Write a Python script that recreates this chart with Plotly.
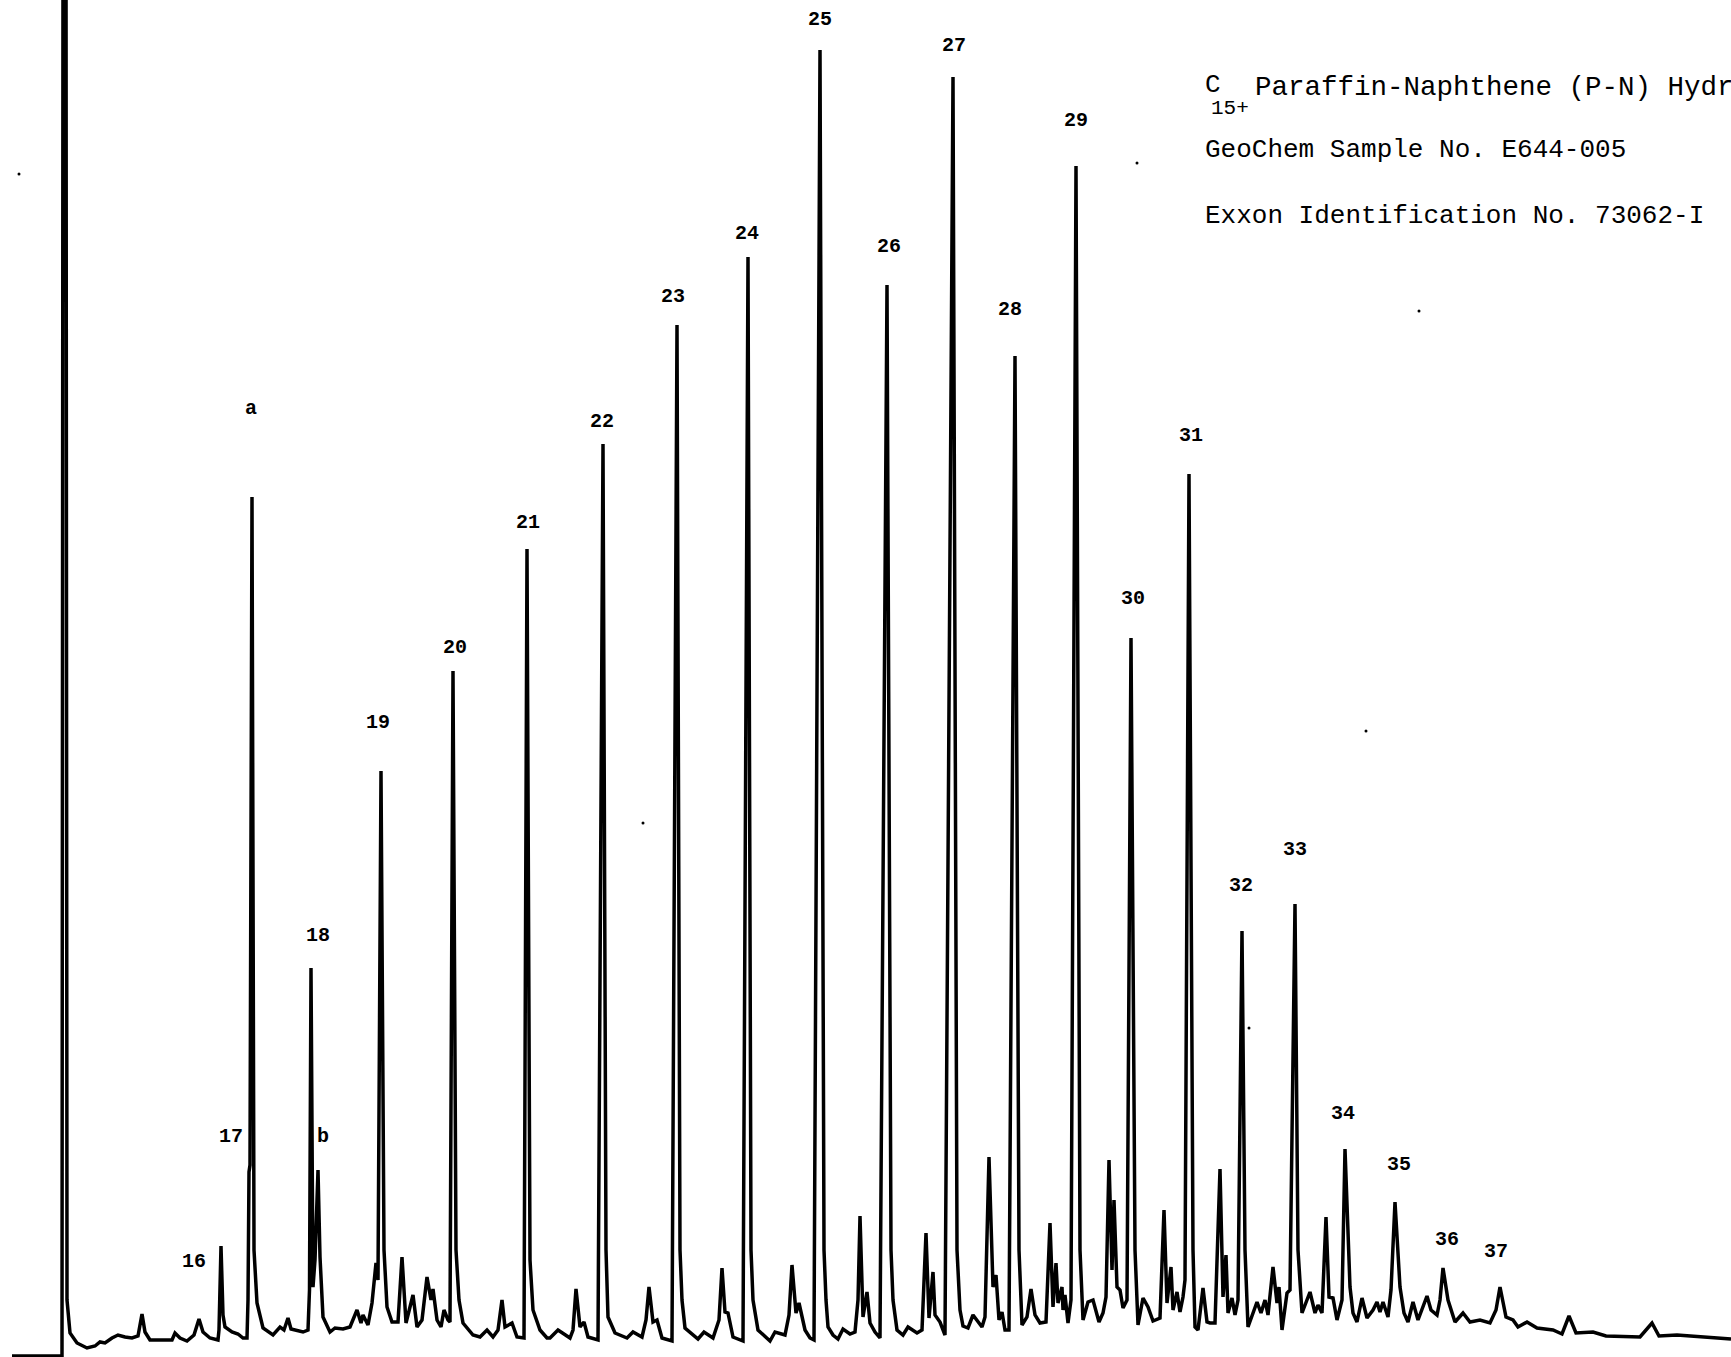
import plotly.graph_objects as go

# ---------------------------------------------------------------
# Gas chromatogram, C15+ paraffin-naphthene fraction
# x  : retention position along the recorder chart (chart units)
# pen_depth : pen position measured down from the chart top (chart units);
#             detector signal = FULL_SCALE - pen_depth
# ---------------------------------------------------------------
FULL_SCALE = 1357
CHART_LEN = 1731

# labelled n-alkane / marker peaks (apex)
peak_names = ["16", "17", "a", "18", "b", "19", "20", "21", "22", "23", "24", "25",
              "26", "27", "28", "29", "30", "31", "32", "33", "34", "35", "36", "37"]
peak_rt = [221, 249, 252, 311, 318, 381, 453, 527, 603, 677, 748, 820,
           887, 953, 1015, 1076, 1131, 1189, 1242, 1295, 1345, 1395, 1443, 1500]
peak_depth = [1246, 1172, 497, 968, 1170, 771, 671, 549, 444, 325, 257, 50,
              285, 77, 356, 166, 638, 474, 931, 904, 1149, 1202, 1268, 1287]

# label placement (chart units)
label_rt = [194, 231, 251, 318, 323, 378, 455, 528, 602, 673, 747, 820,
            889, 954, 1010, 1076, 1133, 1191, 1241, 1295, 1343, 1399, 1447, 1496]
label_depth = [1261, 1136, 408, 935, 1136, 722, 647, 522, 421, 296, 233, 19,
               246, 45, 309, 120, 598, 435, 885, 849, 1113, 1164, 1239, 1251]

# remainder of the recorder trace (baseline, minor peaks, peak flanks)
trace_rt = [
    12, 62, 63, 66, 67, 70, 77, 87, 95, 100, 105, 112, 118, 125, 132, 138, 142, 145,
    150, 172, 175, 180, 187, 194, 199, 203, 210, 218, 219, 223, 225, 232, 238, 243,
    247, 248, 248.5, 250, 254, 257, 263, 273, 280, 284, 288, 291, 303, 308, 309.5,
    313, 315, 320, 323, 330, 335, 343, 350, 357, 361, 363, 368, 372, 376, 378,
    384, 387, 392, 398, 402, 406, 413, 417, 422, 427, 431, 433, 437, 441, 444, 448,
    450, 456, 459, 463, 473, 480, 487, 493, 498, 502, 505, 512, 517, 524, 530, 533,
    540, 547, 550, 558, 570, 573, 576, 580, 584, 588, 598, 606, 608, 615, 627, 633,
    642, 646, 649, 653, 657, 662, 672, 680, 682, 685, 693, 698, 704, 713, 719, 722,
    725, 728, 733, 743, 751, 753, 758, 770, 775, 785, 789, 792, 796, 799, 805, 810,
    814, 824, 826, 828, 833, 838, 843, 850, 855, 858, 860, 863, 867, 870, 875, 880,
    891, 893, 897, 903, 908, 917, 922, 926, 929, 933, 935, 940, 945, 957, 960, 963,
    968, 973, 982, 985, 989, 993, 996, 999, 1002, 1005, 1009, 1019, 1022, 1027, 1031,
    1035, 1040, 1046, 1050, 1053, 1056, 1058, 1062, 1063, 1065, 1068, 1071, 1080,
    1083, 1088, 1093, 1099, 1103, 1106, 1109, 1112, 1114, 1117, 1120, 1123, 1127,
    1135, 1138, 1143, 1148, 1153, 1160, 1164, 1167, 1171, 1173, 1177, 1180, 1183,
    1185, 1193, 1195, 1198, 1203, 1207, 1210, 1215, 1220, 1223, 1226, 1228, 1232,
    1235, 1238, 1245, 1248, 1257, 1261, 1265, 1268, 1273, 1277, 1279, 1282, 1287,
    1290, 1298, 1302, 1310, 1315, 1318, 1322, 1326, 1329, 1333, 1337, 1342, 1350,
    1353, 1357, 1362, 1367, 1373, 1377, 1380, 1383, 1388, 1391, 1400, 1404, 1408,
    1413, 1418, 1427, 1431, 1437, 1440, 1448, 1455, 1463, 1470, 1480, 1490, 1496,
    1506, 1513, 1518, 1527, 1537, 1553, 1562, 1569, 1576, 1593, 1606, 1640, 1652,
    1659, 1677, 1731,
]
trace_depth = [
    1356, 1356, -60, -60, 1300, 1333, 1343, 1348, 1346, 1342, 1343, 1338, 1335, 1337, 1338, 1336, 1314, 1332,
    1340, 1340, 1333, 1338, 1341, 1335, 1319, 1332, 1338, 1340, 1330, 1315, 1327, 1332, 1334, 1338,
    1338, 1300, 1217, 1165, 1250, 1303, 1328, 1335, 1327, 1330, 1318, 1329, 1332, 1330, 1290,
    1287, 1260, 1257, 1317, 1332, 1328, 1329, 1327, 1310, 1323, 1315, 1325, 1303, 1263, 1280,
    1250, 1307, 1322, 1322, 1257, 1323, 1295, 1327, 1320, 1277, 1300, 1289, 1320, 1327, 1310, 1320,
    1322, 1250, 1300, 1323, 1335, 1337, 1330, 1337, 1330, 1300, 1327, 1323, 1337, 1338, 1260, 1310,
    1330, 1338, 1338, 1330, 1338, 1330, 1289, 1327, 1322, 1337, 1340, 1250, 1317, 1333, 1338, 1332,
    1337, 1320, 1287, 1322, 1320, 1338, 1341, 1250, 1300, 1328, 1335, 1339, 1332, 1338, 1320, 1268,
    1312, 1313, 1337, 1341, 1250, 1300, 1330, 1341, 1332, 1335, 1315, 1265, 1313, 1303, 1330, 1338,
    1340, 1250, 1300, 1327, 1335, 1339, 1329, 1334, 1332, 1300, 1216, 1317, 1292, 1323, 1332, 1338,
    1250, 1300, 1330, 1335, 1327, 1333, 1330, 1233, 1318, 1272, 1315, 1322, 1335, 1250, 1310, 1326,
    1328, 1315, 1327, 1317, 1157, 1287, 1275, 1320, 1312, 1330, 1330, 1250, 1325, 1317, 1289,
    1315, 1323, 1322, 1223, 1307, 1263, 1303, 1287, 1310, 1295, 1323, 1300, 1250,
    1320, 1302, 1300, 1322, 1313, 1297, 1160, 1270, 1200, 1287, 1290, 1308, 1300,
    1250, 1325, 1298, 1307, 1321, 1318, 1210, 1303, 1267, 1310, 1292, 1312, 1297,
    1280, 1250, 1327, 1330, 1288, 1322, 1323, 1323, 1169, 1297, 1255, 1313, 1298,
    1315, 1300, 1250, 1327, 1302, 1313, 1300, 1315, 1267, 1303, 1287, 1330, 1293,
    1290, 1250, 1313, 1292, 1313, 1305, 1313, 1217, 1297, 1298, 1320, 1300, 1287,
    1313, 1322, 1298, 1318, 1310, 1302, 1312, 1302, 1317, 1290, 1287, 1313, 1322,
    1302, 1320, 1296, 1310, 1315, 1300, 1300, 1322, 1313, 1322, 1320, 1323, 1310,
    1317, 1320, 1327, 1322, 1328, 1330, 1334, 1316, 1333, 1332, 1336, 1337, 1323,
    1336, 1335, 1339,
]

# stray specks on the chart paper
speck_rt = [19, 643, 1137, 1249, 1366, 1419]
speck_depth = [174, 823, 163, 1028, 731, 311]

# header text
header_formula = ("C", "15+")
header_lines = [
    "Paraffin-Naphthene (P-N) Hydrocarbons",
    "GeoChem Sample No. E644-005",
    "Exxon Identification No. 73062-I",
]

# ---------------------------------------------------------------
pts = sorted(list(zip(trace_rt, trace_depth)) + list(zip(peak_rt, peak_depth)),
             key=lambda p: p[0])
xs = [p[0] for p in pts]
ys = [FULL_SCALE - p[1] for p in pts]

fig = go.Figure()
fig.add_trace(go.Scatter(x=xs, y=ys, mode="lines",
                         line=dict(color="black", width=3.5), hoverinfo="skip",
                         showlegend=False))
fig.add_trace(go.Scatter(x=speck_rt, y=[FULL_SCALE - d for d in speck_depth],
                         mode="markers", marker=dict(color="black", size=3),
                         hoverinfo="skip", showlegend=False))

for name, lx, ld in zip(peak_names, label_rt, label_depth):
    fig.add_annotation(x=lx, y=FULL_SCALE - ld, text=f"<b>{name}</b>", showarrow=False,
                       xanchor="center", yanchor="middle",
                       font=dict(family="Liberation Mono", size=20, color="black"))

hfont = dict(family="Liberation Mono", size=26, color="black")
fig.add_annotation(x=1203, y=FULL_SCALE - 85, text=header_formula[0], showarrow=False,
                   xanchor="left", yanchor="middle", font=hfont)
fig.add_annotation(x=1209, y=FULL_SCALE - 108, text=header_formula[1], showarrow=False,
                   xanchor="left", yanchor="middle",
                   font=dict(family="Liberation Mono", size=21, color="black"))
fig.add_annotation(x=1253, y=FULL_SCALE - 87, text=header_lines[0], showarrow=False,
                   xanchor="left", yanchor="middle",
                   font=dict(family="Liberation Mono", size=27.5, color="black"))
for t, d in zip(header_lines[1:], [150, 216]):
    fig.add_annotation(x=1203, y=FULL_SCALE - d, text=t, showarrow=False,
                       xanchor="left", yanchor="middle", font=hfont)

fig.update_layout(
    width=1731, height=1357,
    margin=dict(l=0, r=0, t=0, b=0),
    paper_bgcolor="white", plot_bgcolor="white",
    xaxis=dict(range=[0, CHART_LEN], visible=False, fixedrange=True),
    yaxis=dict(range=[0, FULL_SCALE], visible=False, fixedrange=True),
)

fig.write_html("out.html", config={"displayModeBar": False},
               post_script="document.body.style.margin='0';document.body.style.overflow='hidden';")
